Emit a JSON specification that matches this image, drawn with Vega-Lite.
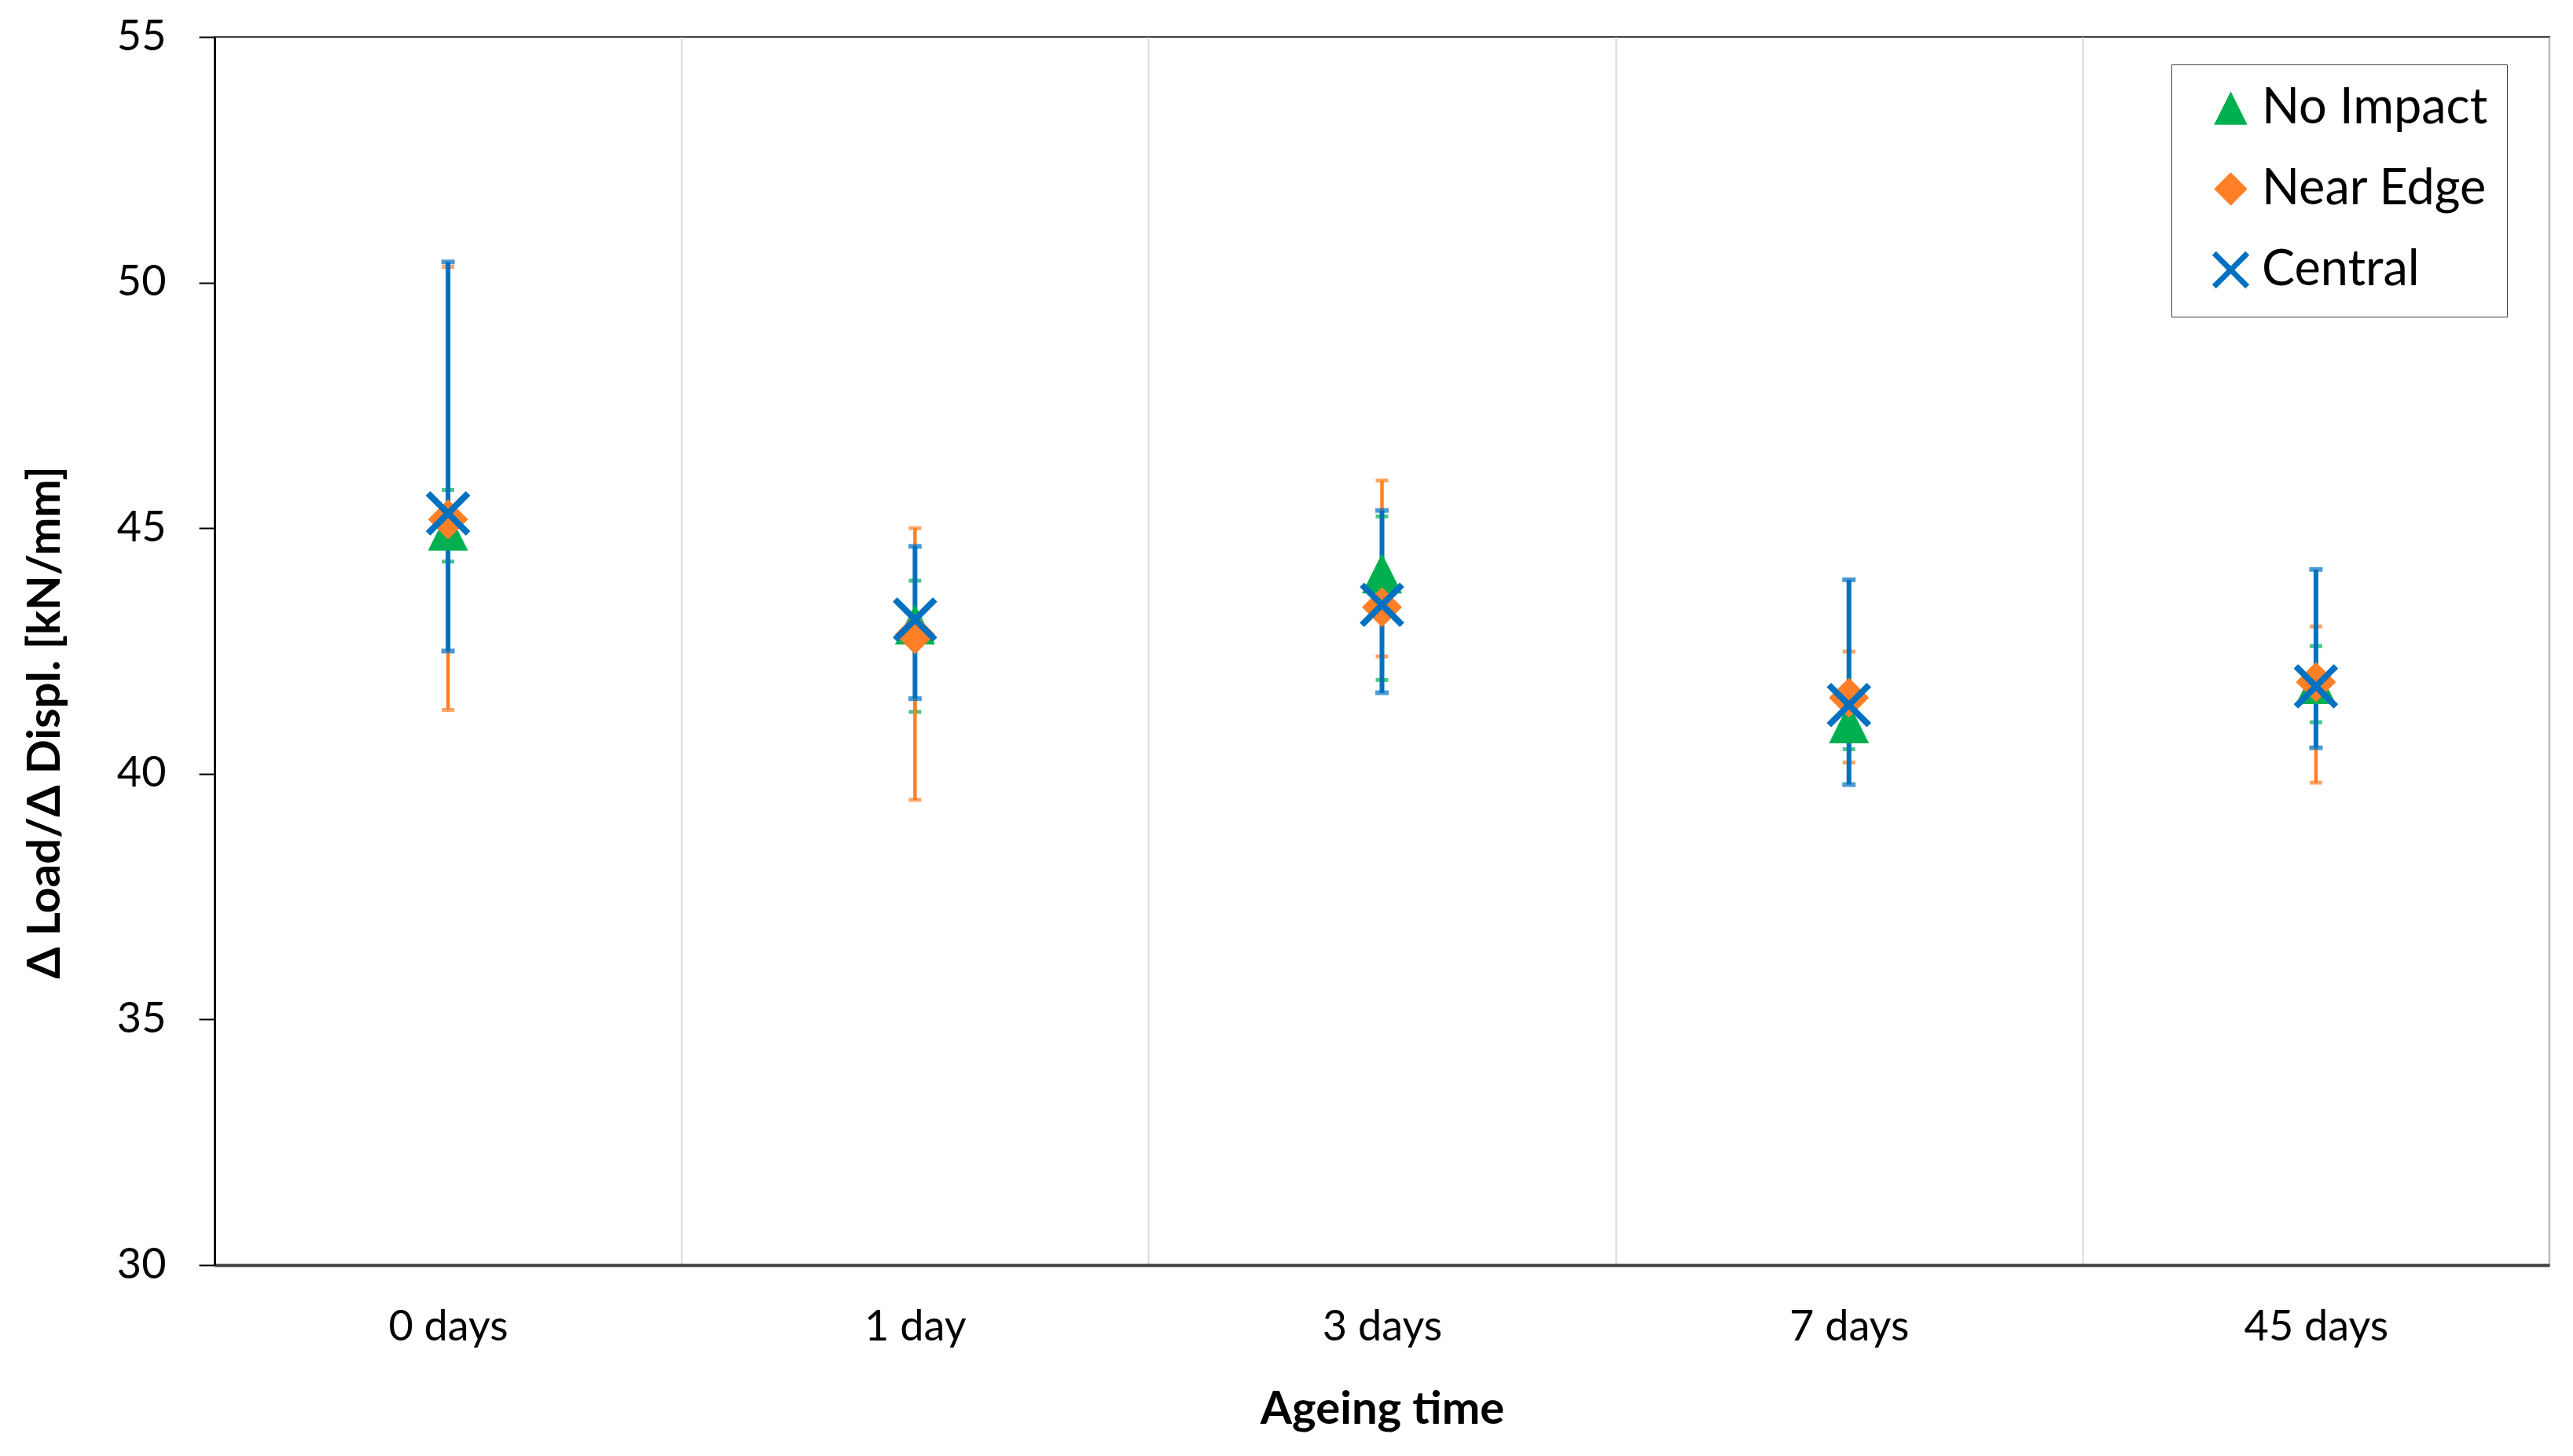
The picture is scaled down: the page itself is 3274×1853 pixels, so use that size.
{
  "$schema": "https://vega.github.io/schema/vega-lite/v6.json",
  "autosize": {"type": "none"},
  "padding": {"left": 273, "top": 47, "right": 30, "bottom": 243},
  "width": 2971,
  "height": 1563,
  "background": "white",
  "config": {
    "font": "Lato",
    "view": {"stroke": "#404040", "strokeWidth": 2},
    "legend": {
      "orient": "none",
      "legendX": 2490,
      "legendY": 35,
      "padding": 24,
      "symbolOffset": 20,
      "symbolSize": 1800,
      "symbolStrokeWidth": 7,
      "labelFont": "Lato",
      "labelFontSize": 63,
      "labelColor": "#000000",
      "labelOffset": 8,
      "labelLimit": 0,
      "rowPadding": 32,
      "strokeColor": "#404040",
      "fillColor": "white"
    }
  },
  "data": {
    "values": [
      {"time": "0 days", "series": "No Impact", "value": 44.95, "low": 44.32, "high": 45.78},
      {"time": "0 days", "series": "Near Edge", "value": 45.18, "low": 41.3, "high": 50.32},
      {"time": "0 days", "series": "Central", "value": 45.3, "low": 42.5, "high": 50.42},
      {"time": "1 day", "series": "No Impact", "value": 43.04, "low": 41.26, "high": 43.93},
      {"time": "1 day", "series": "Near Edge", "value": 42.84, "low": 39.47, "high": 45.0},
      {"time": "1 day", "series": "Central", "value": 43.14, "low": 41.53, "high": 44.63},
      {"time": "3 days", "series": "No Impact", "value": 44.08, "low": 41.91, "high": 45.24},
      {"time": "3 days", "series": "Near Edge", "value": 43.39, "low": 42.39, "high": 45.97},
      {"time": "3 days", "series": "Central", "value": 43.44, "low": 41.65, "high": 45.36},
      {"time": "7 days", "series": "No Impact", "value": 41.03, "low": 40.5, "high": 41.5},
      {"time": "7 days", "series": "Near Edge", "value": 41.55, "low": 40.23, "high": 42.49},
      {"time": "7 days", "series": "Central", "value": 41.4, "low": 39.78, "high": 43.95},
      {"time": "45 days", "series": "No Impact", "value": 41.83, "low": 41.05, "high": 42.6},
      {"time": "45 days", "series": "Near Edge", "value": 41.87, "low": 39.82, "high": 43.0},
      {"time": "45 days", "series": "Central", "value": 41.78, "low": 40.53, "high": 44.16}
    ]
  },
  "encoding": {
    "x": {
      "field": "time",
      "type": "nominal",
      "sort": ["0 days", "1 day", "3 days", "7 days", "45 days"],
      "scale": {"type": "band", "paddingInner": 0, "paddingOuter": 0},
      "axis": {
        "title": "Ageing time",
        "titleFont": "Lato",
        "titleFontSize": 58,
        "titleFontWeight": "bold",
        "titleColor": "#000000",
        "titleBaseline": "middle",
        "titleY": 184,
        "labelAngle": 0,
        "labelFontSize": 54,
        "labelColor": "#000000",
        "labelBaseline": "alphabetic",
        "labelPadding": 95,
        "labelLimit": 0,
        "ticks": false,
        "tickSize": 0,
        "grid": true,
        "tickBand": "extent",
        "gridColor": "#D9D9D9",
        "gridWidth": 2,
        "domainColor": "#404040",
        "domainWidth": 4
      }
    },
    "y": {
      "field": "low",
      "type": "quantitative",
      "scale": {"domain": [30, 55], "nice": false, "zero": false},
      "axis": {
        "title": "Δ Load/Δ Displ. [kN/mm]",
        "titleFont": "Lato",
        "titleFontSize": 58,
        "titleFontWeight": "bold",
        "titleColor": "#000000",
        "titleAngle": -90,
        "titleAlign": "center",
        "titleBaseline": "middle",
        "titleX": -215,
        "titleY": 872,
        "values": [30, 35, 40, 45, 50, 55],
        "format": "d",
        "labelFontSize": 54,
        "labelColor": "#000000",
        "labelPadding": 42,
        "tickSize": 20,
        "tickColor": "#000000",
        "tickWidth": 2,
        "grid": false,
        "domainColor": "#000000",
        "domainWidth": 3
      }
    }
  },
  "layer": [
    {
      "transform": [{"filter": "datum.series === 'No Impact'"}],
      "layer": [
        {"mark": {"type": "rule", "color": "#00B050", "strokeWidth": 4.5}, "encoding": {"y2": {"field": "high"}}},
        {"mark": {"type": "tick", "color": "#00B050", "size": 16, "thickness": 5}, "encoding": {}},
        {"mark": {"type": "tick", "color": "#00B050", "size": 16, "thickness": 5}, "encoding": {"y": {"field": "high", "type": "quantitative"}}}
      ]
    },
    {
      "transform": [{"filter": "datum.series === 'Near Edge'"}],
      "layer": [
        {"mark": {"type": "rule", "color": "#FF7F27", "strokeWidth": 4.5}, "encoding": {"y2": {"field": "high"}}},
        {"mark": {"type": "tick", "color": "#FF7F27", "size": 16, "thickness": 5}, "encoding": {}},
        {"mark": {"type": "tick", "color": "#FF7F27", "size": 16, "thickness": 5}, "encoding": {"y": {"field": "high", "type": "quantitative"}}}
      ]
    },
    {
      "transform": [{"filter": "datum.series === 'Central'"}],
      "layer": [
        {"mark": {"type": "rule", "color": "#0070C0", "strokeWidth": 6}, "encoding": {"y2": {"field": "high"}}},
        {"mark": {"type": "tick", "color": "#0070C0", "size": 17, "thickness": 6}, "encoding": {}},
        {"mark": {"type": "tick", "color": "#0070C0", "size": 17, "thickness": 6}, "encoding": {"y": {"field": "high", "type": "quantitative"}}}
      ]
    },
    {
      "mark": {"type": "point", "size": 2600, "strokeWidth": 8, "opacity": 1},
      "encoding": {
        "y": {"field": "value", "type": "quantitative"},
        "shape": {
          "field": "series",
          "type": "nominal",
          "scale": {"domain": ["No Impact", "Near Edge", "Central"], "range": ["M0,-1L1,1L-1,1Z", "diamond", "M-1,-1L1,1M-1,1L1,-1"]},
          "legend": {"title": null}
        },
        "fill": {
          "field": "series",
          "type": "nominal",
          "scale": {"domain": ["No Impact", "Near Edge", "Central"], "range": ["#00B050", "#FF7F27", "#0070C0"]},
          "legend": {"title": null}
        },
        "stroke": {
          "field": "series",
          "type": "nominal",
          "scale": {"domain": ["No Impact", "Near Edge", "Central"], "range": ["transparent", "transparent", "#0070C0"]},
          "legend": {"title": null}
        }
      }
    }
  ]
}
